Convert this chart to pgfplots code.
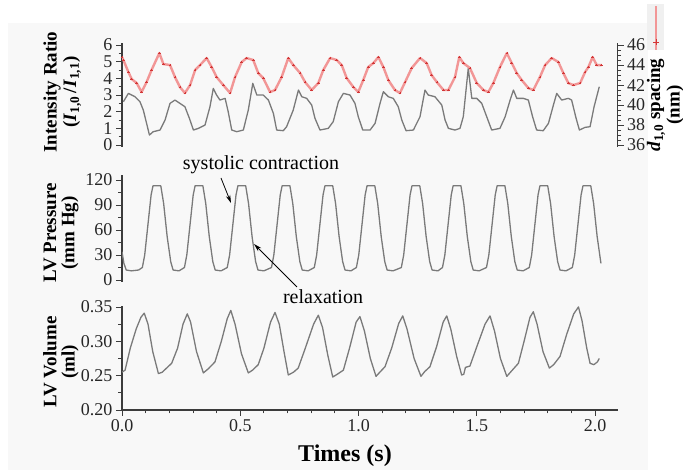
\documentclass[border=0pt]{standalone}
\usepackage{fontspec}
\setmainfont{Liberation Serif}
\usepackage{pgfplots}
\pgfplotsset{compat=1.18}
\usetikzlibrary{arrows.meta}

\definecolor{trace}{RGB}{122,122,122}
\definecolor{axisc}{RGB}{60,60,60}
\definecolor{redline}{RGB}{242,150,150}
\definecolor{redmark}{RGB}{210,55,55}
\definecolor{bg}{RGB}{248,248,248}

\pgfplotsset{
  panel/.style={
    scale only axis, anchor=south west,
    xmin=0, xmax=2.095, width=495.5pt,
    axis line style={axisc, line width=1.1pt},
    tick style={axisc, line width=0.9pt},
    tick align=outside, major tick length=6pt, minor tick length=3.5pt,
    tick label style={font=\fontsize{18}{18}\selectfont, text=black!85},
    /pgf/number format/assume math mode=true,
  },
  trc/.style={trace, line width=1.3pt, line join=round},
}

\begin{document}
\begin{tikzpicture}
\useasboundingbox (0,0) rectangle (683pt,470pt);
\fill[bg] (8pt,0pt) rectangle (648pt,447pt);
\fill[black!6] (647pt,420pt) rectangle (664pt,466pt);

% ---- top panel: intensity ratio (left axis)
\begin{axis}[panel, at={(122pt,323.3pt)}, height=103.3pt,
    ymin=-0.1, ymax=6.1, axis x line=none, axis y line*=left,
    ytick={0,1,2,3,4,5,6}, minor y tick num=1]
\addplot[trc] coordinates {
(0.006,2.6) (0.027,3.1) (0.055,2.9) (0.076,2.6) (0.090,2.1) (0.104,1.3) (0.116,0.6)
(0.132,0.8) (0.161,0.9) (0.182,1.5) (0.203,2.5) (0.224,2.7) (0.245,2.5) (0.266,2.3)
(0.285,1.6) (0.302,0.9) (0.323,1.0) (0.351,1.2) (0.372,2.3) (0.386,3.4) (0.400,3.0)
(0.414,2.7) (0.436,2.8) (0.449,2.0) (0.464,0.9) (0.485,0.8) (0.513,0.9) (0.534,2.1)
(0.553,3.7) (0.570,3.0) (0.597,3.0) (0.619,2.7) (0.640,1.9) (0.654,0.9) (0.682,0.86)
(0.696,1.1) (0.724,2.1) (0.746,3.3) (0.760,2.9) (0.781,2.8) (0.802,2.4) (0.816,1.6)
(0.837,0.9) (0.872,1.0) (0.893,1.4) (0.915,2.6) (0.936,3.1) (0.964,3.0) (0.985,2.5)
(0.999,1.7) (1.018,0.9) (1.049,0.9) (1.070,1.3) (1.091,2.5) (1.105,3.2) (1.126,2.9)
(1.147,2.8) (1.168,2.3) (1.183,1.5) (1.201,0.86) (1.232,0.9) (1.260,1.7) (1.281,3.3)
(1.295,3.0) (1.323,2.9) (1.352,2.4) (1.366,1.5) (1.380,1.0) (1.408,0.9) (1.429,1.0)
(1.443,1.7) (1.464,4.6) (1.479,2.8) (1.500,2.8) (1.521,2.5) (1.542,1.7) (1.563,0.9)
(1.598,1.0) (1.620,1.7) (1.641,2.7) (1.655,3.3) (1.669,2.8) (1.697,2.8) (1.718,2.7)
(1.736,1.7) (1.753,0.9) (1.781,0.86) (1.803,1.3) (1.824,2.4) (1.838,3.1) (1.859,2.7)
(1.887,2.8) (1.901,2.7) (1.920,1.6) (1.934,0.9) (1.958,1.06) (1.979,1.1) (1.996,2.3)
(2.018,3.5)};
\end{axis}

% ---- top panel: d10 spacing (right axis)
\begin{axis}[panel, at={(122pt,323.3pt)}, height=103.3pt,
    ymin=35.8333, ymax=46.1667, axis x line=none, axis y line*=right,
    ytick={36,38,40,42,44,46}, minor y tick num=3]
\addplot[redline, line width=2.4pt, line join=round, mark=+, mark size=1.3pt,
    mark options={draw=redmark, line width=0.6pt, solid}] coordinates {
(0.000,44.8) (0.006,44.5) (0.027,43.3) (0.041,42.6) (0.062,42.2) (0.083,41.3) (0.104,42.3)
(0.125,43.5) (0.158,45.2) (0.175,44.1) (0.203,44.0) (0.224,42.8) (0.245,41.8) (0.266,41.2)
(0.288,42.0) (0.309,43.5) (0.330,44.0) (0.358,44.7) (0.379,43.8) (0.400,42.8) (0.428,42.0)
(0.457,41.2) (0.478,42.8) (0.506,44.3) (0.527,44.7) (0.555,44.5) (0.576,43.2) (0.597,42.7)
(0.626,41.3) (0.647,41.5) (0.675,42.8) (0.703,44.7) (0.724,44.0) (0.753,43.2) (0.774,42.3)
(0.802,41.5) (0.830,42.2) (0.851,43.5) (0.880,44.7) (0.908,44.5) (0.929,44.0) (0.950,42.7)
(0.978,41.8) (0.999,41.3) (1.020,42.5) (1.041,43.8) (1.063,44.2) (1.084,44.8) (1.105,43.8)
(1.126,42.5) (1.154,41.5) (1.175,41.2) (1.197,42.3) (1.225,43.7) (1.260,44.7) (1.288,44.2)
(1.309,43.0) (1.331,42.3) (1.359,41.5) (1.380,41.5) (1.408,42.8) (1.426,44.8) (1.443,44.2)
(1.471,43.7) (1.500,42.2) (1.528,41.5) (1.549,41.3) (1.570,42.2) (1.598,43.8) (1.627,45.2)
(1.648,44.2) (1.669,43.2) (1.690,42.5) (1.718,41.7) (1.739,41.5) (1.767,42.8) (1.789,44.0)
(1.817,44.7) (1.845,44.3) (1.866,43.2) (1.887,42.2) (1.908,42.0) (1.937,42.2) (1.958,43.3)
(1.972,43.8) (1.990,44.8) (2.007,44.0) (2.028,44.0)};
\end{axis}

% ---- middle panel: LV pressure
\begin{axis}[panel, at={(122pt,188.3pt)}, height=106.7pt,
    ymin=-2, ymax=126, axis x line=none, axis y line*=left,
    ytick={0,30,60,90,120}, minor y tick num=1]
\addplot[trc] coordinates {
(0.000,34) (0.008,20) (0.018,12) (0.040,11) (0.070,12) (0.086,15)
(0.096,30) (0.111,70) (0.123,102) (0.131,113) (0.164,113) (0.176,92) (0.191,52) (0.206,22) (0.216,12) (0.241,11)
(0.264,15) (0.274,30) (0.289,70) (0.301,102) (0.309,113) (0.342,113) (0.354,92) (0.369,52) (0.384,22) (0.394,12) (0.419,11)
(0.445,15) (0.455,30) (0.470,70) (0.482,102) (0.490,113) (0.523,113) (0.535,92) (0.550,52) (0.565,22) (0.575,12) (0.600,11)
(0.632,15) (0.642,30) (0.657,70) (0.669,102) (0.677,113) (0.710,113) (0.722,92) (0.737,52) (0.752,22) (0.762,12) (0.787,11)
(0.813,15) (0.823,30) (0.838,70) (0.850,102) (0.858,113) (0.891,113) (0.903,92) (0.918,52) (0.933,22) (0.943,12) (0.968,11)
(0.991,15) (1.001,30) (1.016,70) (1.028,102) (1.036,113) (1.069,113) (1.081,92) (1.096,52) (1.111,22) (1.121,12) (1.146,11)
(1.181,15) (1.191,30) (1.206,70) (1.218,102) (1.226,113) (1.259,113) (1.271,92) (1.286,52) (1.301,22) (1.311,12) (1.336,11)
(1.355,15) (1.365,30) (1.380,70) (1.392,102) (1.400,113) (1.433,113) (1.445,92) (1.460,52) (1.475,22) (1.485,12) (1.510,11)
(1.541,15) (1.551,30) (1.566,70) (1.578,102) (1.586,113) (1.619,113) (1.631,92) (1.646,52) (1.661,22) (1.671,12) (1.696,11)
(1.722,15) (1.732,30) (1.747,70) (1.759,102) (1.767,113) (1.800,113) (1.812,92) (1.827,52) (1.842,22) (1.852,12) (1.877,11)
(1.904,15) (1.914,30) (1.929,70) (1.941,102) (1.949,113) (1.982,113) (1.994,92) (2.009,52) (2.025,20)};
\end{axis}

% ---- bottom panel: LV volume
\begin{axis}[panel, at={(122pt,60pt)}, height=104.4pt,
    ymin=0.2, ymax=0.352, axis x line*=bottom, axis y line*=left,
    xtick={0,0.5,1,1.5,2}, xticklabels={0.0,0.5,1.0,1.5,2.0}, minor x tick num=4,
    ytick={0.2,0.25,0.3,0.35}, yticklabels={0.20,0.25,0.30,0.35}, minor y tick num=1]
\addplot[trc] coordinates {
(0.000,0.255) (0.013,0.258) (0.035,0.290) (0.060,0.318) (0.080,0.335) (0.094,0.341)
(0.110,0.325) (0.130,0.285) (0.154,0.253) (0.170,0.255) (0.210,0.268) (0.235,0.290)
(0.258,0.325) (0.276,0.340) (0.290,0.328) (0.315,0.285) (0.344,0.254) (0.365,0.260)
(0.393,0.270) (0.420,0.300) (0.445,0.333) (0.460,0.345) (0.478,0.325) (0.505,0.282)
(0.534,0.254) (0.552,0.258) (0.576,0.266) (0.600,0.290) (0.628,0.328) (0.647,0.342)
(0.665,0.325) (0.685,0.285) (0.703,0.251) (0.725,0.255) (0.745,0.261) (0.775,0.290)
(0.810,0.325) (0.830,0.338) (0.848,0.320) (0.870,0.280) (0.891,0.248) (0.910,0.252)
(0.936,0.258) (0.962,0.290) (0.990,0.328) (1.006,0.336) (1.025,0.315) (1.050,0.275)
(1.074,0.249) (1.090,0.255) (1.112,0.263) (1.140,0.290) (1.170,0.326) (1.187,0.337)
(1.205,0.318) (1.235,0.275) (1.264,0.249) (1.280,0.256) (1.302,0.263) (1.330,0.292)
(1.358,0.328) (1.373,0.337) (1.390,0.318) (1.415,0.278) (1.436,0.251) (1.445,0.252)
(1.452,0.262) (1.471,0.264) (1.500,0.292) (1.535,0.325) (1.556,0.337) (1.575,0.315)
(1.600,0.275) (1.627,0.249) (1.645,0.256) (1.676,0.268) (1.700,0.300) (1.725,0.335)
(1.739,0.343) (1.755,0.325) (1.780,0.285) (1.807,0.261) (1.825,0.266) (1.852,0.278)
(1.880,0.310) (1.910,0.340) (1.930,0.350) (1.945,0.330) (1.965,0.290) (1.979,0.268)
(1.995,0.266) (2.010,0.270) (2.018,0.275)};
\end{axis}

% axis titles
\begin{scope}[every node/.style={rotate=90, font=\fontsize{19}{19}\selectfont\bfseries}]
\node at (52pt,378pt) {Intensity Ratio};
\node at (72pt,378pt) {(\textit{I}\textsubscript{1,0}\,/\textit{I}\textsubscript{1,1})};
\node at (50pt,237pt) {LV Pressure};
\node at (70pt,237pt) {(mm Hg)};
\node at (50pt,108pt) {LV Volume};
\node at (70pt,108pt) {(ml)};
\node at (656pt,365pt) {\textit{d}\textsubscript{1,0} spacing};
\node at (675pt,365pt) {(nm)};
\end{scope}
\node[font=\fontsize{24}{24}\selectfont\bfseries] at (345pt,14pt) {Times (s)};

% legend key for the red series
\draw[redline, line width=2pt] (656pt,420pt) -- (656pt,464pt);
\draw[redmark, line width=0.6pt] (653pt,428pt) -- (659pt,428pt) (656pt,425pt) -- (656pt,431pt);

% annotations
\node[font=\fontsize{20}{20}\selectfont] at (261pt,305pt) {systolic contraction};
\node[font=\fontsize{20}{20}\selectfont] at (323pt,173pt) {relaxation};
\draw[line width=0.8pt, -{Stealth[length=8pt,width=4.5pt]}] (221pt,292pt) -- (231pt,267pt);
\draw[line width=0.8pt, -{Stealth[length=8pt,width=4.5pt]}] (297pt,183pt) -- (254pt,226pt);
\end{tikzpicture}
\end{document}
